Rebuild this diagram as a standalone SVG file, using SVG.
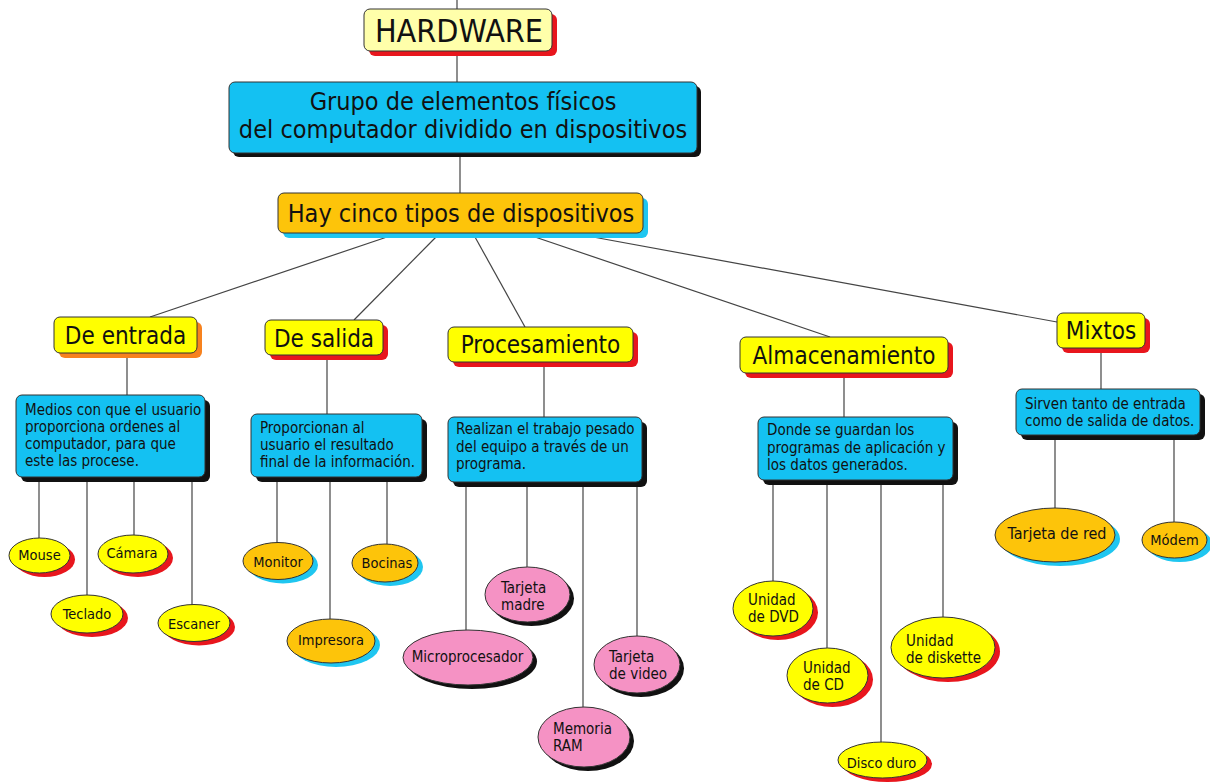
<svg xmlns="http://www.w3.org/2000/svg" width="1210" height="782" viewBox="0 0 1210 782">
<style>
text{font-family:"DejaVu Sans Condensed","DejaVu Sans","Liberation Sans",sans-serif;font-stretch:condensed;fill:#111}
.c{text-anchor:middle}
.box{stroke:#333;stroke-width:1}
.lyel{fill:#FFFFAA}
.yel{fill:#FFFF00}
.blue{fill:#14C1F2}
.org{fill:#FDC40A}
.pink{fill:#F592C4}
.sred{fill:#E8161D}
.sorg{fill:#F7821E}
.scyan{fill:#1FC6F0}
.sblk{fill:#111}
.t32{font-size:32px}
.t25{font-size:25px}
.t24{font-size:24px}
.t16{font-size:16px}
.t15{font-size:15px}
.t14{font-size:14.5px}
#connectors line{stroke:#444;stroke-width:1.2}
</style>
<rect width="1210" height="782" fill="#fff"/>
<g id="connectors">
<line x1="457" y1="0" x2="457" y2="10"/>
<line x1="457" y1="51" x2="457" y2="82"/>
<line x1="460" y1="153" x2="460" y2="193"/>
<line x1="387" y1="237" x2="150" y2="317"/>
<line x1="436" y1="237" x2="354" y2="320"/>
<line x1="475" y1="237" x2="525" y2="327"/>
<line x1="535" y1="237" x2="830" y2="337"/>
<line x1="593" y1="237" x2="1057" y2="322"/>
<line x1="127" y1="353" x2="127" y2="395"/>
<line x1="327" y1="355" x2="327" y2="414"/>
<line x1="544" y1="362" x2="544" y2="417"/>
<line x1="844" y1="373" x2="844" y2="417"/>
<line x1="1101" y1="348" x2="1101" y2="389"/>
<line x1="39" y1="478" x2="39" y2="538"/>
<line x1="87" y1="478" x2="87" y2="595"/>
<line x1="134" y1="478" x2="134" y2="535"/>
<line x1="192" y1="478" x2="192" y2="605"/>
<line x1="277" y1="477" x2="277" y2="543"/>
<line x1="330" y1="477" x2="330" y2="619"/>
<line x1="387" y1="477" x2="387" y2="544"/>
<line x1="466" y1="482" x2="466" y2="630"/>
<line x1="527" y1="482" x2="527" y2="567"/>
<line x1="583" y1="482" x2="583" y2="707"/>
<line x1="637" y1="482" x2="637" y2="636"/>
<line x1="773" y1="480" x2="773" y2="581"/>
<line x1="827" y1="480" x2="827" y2="648"/>
<line x1="881" y1="480" x2="881" y2="742"/>
<line x1="943" y1="480" x2="943" y2="617"/>
<line x1="1055" y1="435" x2="1055" y2="508"/>
<line x1="1174" y1="435" x2="1174" y2="522"/>
</g>
<g id="hardware">
<rect class="sred" x="369" y="14" width="188" height="42" rx="6"/>
<rect class="box lyel" x="364" y="9" width="188" height="42" rx="6"/>
<text class="t32 c" x="459" y="42">HARDWARE</text>
</g>
<g id="grupo">
<rect class="sblk" x="233" y="86" width="468" height="71" rx="6"/>
<rect class="box blue" x="229" y="82" width="468" height="71" rx="6"/>
<text class="t25 c" x="463" y="110">Grupo de elementos físicos</text>
<text class="t25 c" x="463" y="138">del computador dividido en dispositivos</text>
</g>
<g id="tipos">
<rect class="scyan" x="283" y="198" width="365" height="40" rx="6"/>
<rect class="box org" x="278" y="193" width="365" height="40" rx="6"/>
<text class="t25 c" x="461" y="222">Hay cinco tipos de dispositivos</text>
</g>
<g id="entrada">
<rect class="sorg" x="59" y="322" width="143" height="36" rx="6"/>
<rect class="box yel" x="54" y="317" width="143" height="36" rx="6"/>
<text class="t24 c" x="125.5" y="344">De entrada</text>
</g>
<g id="salida">
<rect class="sred" x="270" y="325" width="118" height="35" rx="6"/>
<rect class="box yel" x="265" y="320" width="118" height="35" rx="6"/>
<text class="t24 c" x="324" y="347">De salida</text>
</g>
<g id="procesamiento">
<rect class="sred" x="453" y="332" width="185" height="35" rx="6"/>
<rect class="box yel" x="448" y="327" width="185" height="35" rx="6"/>
<text class="t24 c" x="540.5" y="353">Procesamiento</text>
</g>
<g id="almacenamiento">
<rect class="sred" x="745" y="342" width="208" height="36" rx="6"/>
<rect class="box yel" x="740" y="337" width="208" height="36" rx="6"/>
<text class="t24 c" x="844" y="364">Almacenamiento</text>
</g>
<g id="mixtos">
<rect class="sred" x="1062" y="318" width="88" height="35" rx="6"/>
<rect class="box yel" x="1057" y="313" width="88" height="35" rx="6"/>
<text class="t24 c" x="1101" y="339">Mixtos</text>
</g>
<g id="desc-entrada">
<rect class="sblk" x="21" y="400" width="189" height="82" rx="6"/>
<rect class="box blue" x="16" y="395" width="189" height="82" rx="6"/>
<text class="t15" x="25" y="415">Medios con que el usuario</text>
<text class="t15" x="25" y="432">proporciona ordenes al</text>
<text class="t15" x="25" y="449">computador, para que</text>
<text class="t15" x="25" y="466">este las procese.</text>
</g>
<g id="desc-salida">
<rect class="sblk" x="256" y="419" width="171" height="63" rx="6"/>
<rect class="box blue" x="251" y="414" width="171" height="63" rx="6"/>
<text class="t15" x="260" y="433">Proporcionan al</text>
<text class="t15" x="260" y="450">usuario el resultado</text>
<text class="t15" x="260" y="467">final de la información.</text>
</g>
<g id="desc-procesamiento">
<rect class="sblk" x="453" y="422" width="194" height="65" rx="6"/>
<rect class="box blue" x="448" y="417" width="194" height="65" rx="6"/>
<text class="t15" x="456" y="434">Realizan el trabajo pesado</text>
<text class="t15" x="456" y="452">del equipo a través de un</text>
<text class="t15" x="456" y="469">programa.</text>
</g>
<g id="desc-almacenamiento">
<rect class="sblk" x="763" y="422" width="195" height="63" rx="6"/>
<rect class="box blue" x="758" y="417" width="195" height="63" rx="6"/>
<text class="t15" x="767" y="435">Donde se guardan los</text>
<text class="t15" x="767" y="453">programas de aplicación y</text>
<text class="t15" x="767" y="470">los datos generados.</text>
</g>
<g id="desc-mixtos">
<rect class="sblk" x="1021" y="394" width="184" height="46" rx="6"/>
<rect class="box blue" x="1016" y="389" width="184" height="46" rx="6"/>
<text class="t15" x="1025" y="409">Sirven tanto de entrada</text>
<text class="t15" x="1025" y="426">como de salida de datos.</text>
</g>
<g id="mouse">
<ellipse class="sred" cx="44.5" cy="559.5" rx="30.5" ry="17.5"/>
<ellipse class="box yel" cx="39.5" cy="555.5" rx="30.5" ry="17.5"/>
<text class="t14 c" x="39.5" y="560">Mouse</text>
</g>
<g id="camara">
<ellipse class="sred" cx="138" cy="558" rx="35" ry="19"/>
<ellipse class="box yel" cx="133" cy="554" rx="35" ry="19"/>
<text class="t14 c" x="132" y="558">Cámara</text>
</g>
<g id="teclado">
<ellipse class="sred" cx="92" cy="618" rx="36" ry="19"/>
<ellipse class="box yel" cx="87" cy="614" rx="36" ry="19"/>
<text class="t14 c" x="87" y="619">Teclado</text>
</g>
<g id="escaner">
<ellipse class="sred" cx="199" cy="627" rx="36" ry="18.5"/>
<ellipse class="box yel" cx="194" cy="623" rx="36" ry="18.5"/>
<text class="t14 c" x="194" y="629">Escaner</text>
</g>
<g id="monitor">
<ellipse class="scyan" cx="283" cy="565" rx="35" ry="18.5"/>
<ellipse class="box org" cx="278" cy="561" rx="35" ry="18.5"/>
<text class="t14 c" x="278" y="567">Monitor</text>
</g>
<g id="bocinas">
<ellipse class="scyan" cx="390" cy="567" rx="33" ry="19"/>
<ellipse class="box org" cx="385" cy="563" rx="33" ry="19"/>
<text class="t14 c" x="387" y="568">Bocinas</text>
</g>
<g id="impresora">
<ellipse class="scyan" cx="336" cy="645" rx="44" ry="22"/>
<ellipse class="box org" cx="331" cy="641" rx="44" ry="22"/>
<text class="t14 c" x="331" y="645">Impresora</text>
</g>
<g id="tarjeta-madre">
<ellipse class="sblk" cx="531.5" cy="598.5" rx="42.5" ry="27.5"/>
<ellipse class="box pink" cx="527.5" cy="594.5" rx="42.5" ry="27.5"/>
<text class="t15" x="501" y="593">Tarjeta</text>
<text class="t15" x="501" y="610">madre</text>
</g>
<g id="microprocesador">
<ellipse class="sblk" cx="472" cy="661.5" rx="65" ry="27.5"/>
<ellipse class="box pink" cx="468" cy="657.5" rx="65" ry="27.5"/>
<text class="t15 c" x="467.5" y="662">Microprocesador</text>
</g>
<g id="tarjeta-video">
<ellipse class="sblk" cx="641" cy="668.5" rx="43" ry="28.5"/>
<ellipse class="box pink" cx="637" cy="664.5" rx="43" ry="28.5"/>
<text class="t15" x="609" y="662">Tarjeta</text>
<text class="t15" x="609" y="679">de video</text>
</g>
<g id="memoria-ram">
<ellipse class="sblk" cx="588" cy="741" rx="46" ry="30"/>
<ellipse class="box pink" cx="584" cy="737" rx="46" ry="30"/>
<text class="t15" x="553" y="734">Memoria</text>
<text class="t15" x="553" y="751">RAM</text>
</g>
<g id="dvd">
<ellipse class="sred" cx="778" cy="612.5" rx="40" ry="27.5"/>
<ellipse class="box yel" cx="773" cy="608.5" rx="40" ry="27.5"/>
<text class="t15" x="748" y="605">Unidad</text>
<text class="t15" x="748" y="622">de DVD</text>
</g>
<g id="cd">
<ellipse class="sred" cx="832.5" cy="679.5" rx="40.5" ry="27.5"/>
<ellipse class="box yel" cx="827.5" cy="675.5" rx="40.5" ry="27.5"/>
<text class="t15" x="803" y="673">Unidad</text>
<text class="t15" x="803" y="690">de CD</text>
</g>
<g id="diskette">
<ellipse class="sred" cx="948" cy="651.5" rx="52" ry="30.5"/>
<ellipse class="box yel" cx="943" cy="647.5" rx="52" ry="30.5"/>
<text class="t15" x="906" y="646">Unidad</text>
<text class="t15" x="906" y="663">de diskette</text>
</g>
<g id="disco-duro">
<ellipse class="sred" cx="887.5" cy="764" rx="44.5" ry="18"/>
<ellipse class="box yel" cx="882.5" cy="760" rx="44.5" ry="18"/>
<text class="t14 c" x="881.5" y="768">Disco duro</text>
</g>
<g id="tarjeta-red">
<ellipse class="scyan" cx="1060" cy="539" rx="60" ry="27"/>
<ellipse class="box org" cx="1055" cy="535" rx="60" ry="27"/>
<text class="t16 c" x="1057" y="539">Tarjeta de red</text>
</g>
<g id="modem">
<ellipse class="scyan" cx="1179.5" cy="544" rx="32.5" ry="18"/>
<ellipse class="box org" cx="1174.5" cy="540" rx="32.5" ry="18"/>
<text class="t14 c" x="1174.5" y="545">Módem</text>
</g>
</svg>
